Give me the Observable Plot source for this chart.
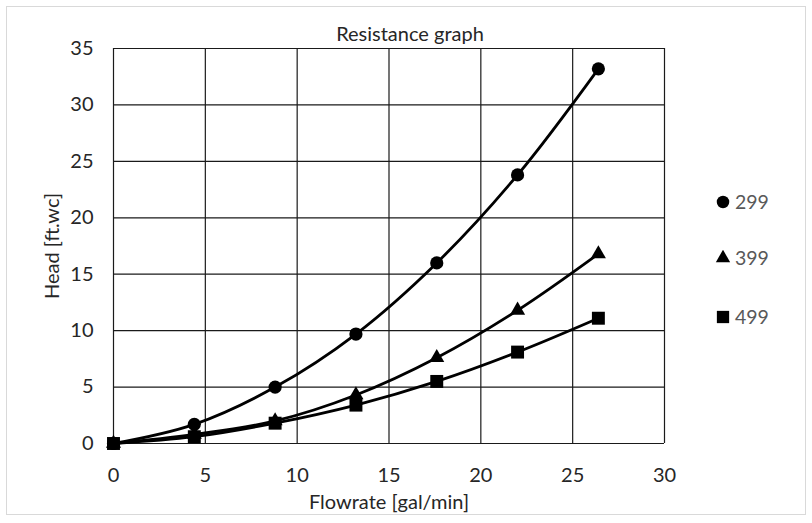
<!DOCTYPE html>
<html>
<head>
<meta charset="utf-8">
<script src="https://cdn.jsdelivr.net/npm/d3@7"></script>
<script src="https://cdn.jsdelivr.net/npm/@observablehq/plot@0.6"></script>
<style>
  html, body { margin: 0; padding: 0; background: #fff; }
  #wrap { position: relative; width: 812px; height: 523px; font-family: Lato, "Open Sans", sans-serif; }
  #border { position: absolute; left: 6px; top: 6px; width: 800px; height: 509px; border: 1px solid #d9d9d9; box-sizing: border-box; pointer-events: none; }
  #legend { position: absolute; left: 715px; top: 0; }
  .item { position: absolute; left: 0; height: 20px; line-height: 20px; display: flex; align-items: center; font-size: 19.5px; color: #595959; white-space: nowrap; }
  .item svg { margin-right: 4px; }
  #chart { position: absolute; left: 0; top: 0; }
</style>
</head>
<body>
<div id="wrap">
  <div id="chart"></div>
  <div id="legend"></div>
  <div id="border"></div>
</div>
<script>
const title = "Resistance graph";
const xLabel = "Flowrate [gal/min]";
const yLabel = "Head [ft.wc]";
const series = ["299", "399", "499"];
const flow = [0, 4.4, 8.8, 13.2, 17.6, 22.0, 26.4];
const head299 = [0, 1.7, 5.0, 9.7, 16.0, 23.8, 33.2];
const head399 = [0, 0.8, 2.0, 4.3, 7.6, 11.8, 16.8];
const head499 = [0, 0.6, 1.8, 3.4, 5.5, 8.1, 11.1];
const xTicks = [0, 5, 10, 15, 20, 25, 30];
const yTicks = [0, 5, 10, 15, 20, 25, 30, 35];
const symbols = ["circle", "triangle", "square"];

const heads = [head299, head399, head499];
const data = [];
series.forEach((s, i) => flow.forEach((f, j) => data.push({series: s, flow: f, head: heads[i][j]})));

const symbolR = {circle: 6.6, triangle: 5.6, square: 7.3};
const font = "Lato, 'Open Sans', sans-serif";

const chart = Plot.plot({
  width: 812,
  height: 523,
  marginLeft: 113,
  marginRight: 148,
  marginTop: 48,
  marginBottom: 80,
  style: {fontFamily: font, fontSize: "20px", color: "#262626", background: "transparent"},
  x: {domain: [0, 30], label: null},
  y: {domain: [0, 35], label: null},
  symbol: {domain: series, range: symbols},
  marks: [
    Plot.gridX(xTicks, {stroke: "#1a1a1a", strokeOpacity: 1, strokeWidth: 1.2}),
    Plot.gridY(yTicks, {stroke: "#1a1a1a", strokeOpacity: 1, strokeWidth: 1.2}),
    Plot.axisX(xTicks, {tickSize: 0, tickPadding: 24, fontSize: 20, fill: "#262626", label: null}),
    Plot.axisY(yTicks, {tickSize: 0, tickPadding: 20, fontSize: 20, fill: "#262626", label: null}),
    Plot.text([title], {frameAnchor: "top", lineAnchor: "middle", textAnchor: "middle", dx: 21, dy: -13.5, fontSize: 20, fill: "#262626"}),
    Plot.text([xLabel], {frameAnchor: "bottom", lineAnchor: "middle", textAnchor: "middle", dy: 59, fontSize: 20, fill: "#262626"}),
    Plot.text([yLabel], {frameAnchor: "left", lineAnchor: "middle", textAnchor: "middle", dx: -61, rotate: -90, fontSize: 20, fill: "#262626"}),
    Plot.line(data, {x: "flow", y: "head", z: "series", stroke: "#000", strokeWidth: 2.8, curve: "catmull-rom"}),
    ...series.map((s, i) => Plot.dot(data.filter(d => d.series === s), {
      x: "flow", y: "head", symbol: "series", fill: "#000", stroke: "none", r: symbolR[symbols[i]]
    }))
  ]
});
document.getElementById("chart").appendChild(chart);

// HTML legend built from the same arrays
const legend = document.getElementById("legend");
const legendCenters = [202, 258, 317];
const d3Sym = {circle: d3.symbolCircle, triangle: d3.symbolTriangle, square: d3.symbolSquare};
series.forEach((s, i) => {
  const div = document.createElement("div");
  div.className = "item";
  div.style.top = (legendCenters[i] - 10) + "px";
  const r = symbolR[symbols[i]];
  const sym = d3.symbol(d3Sym[symbols[i]], Math.PI * r * r * 0.9)();
  div.innerHTML = `<svg width="16" height="16" viewBox="-8 -8 16 16"><path d="${sym}" fill="#000"/></svg><span>${s}</span>`;
  legend.appendChild(div);
});
</script>
</body>
</html>
